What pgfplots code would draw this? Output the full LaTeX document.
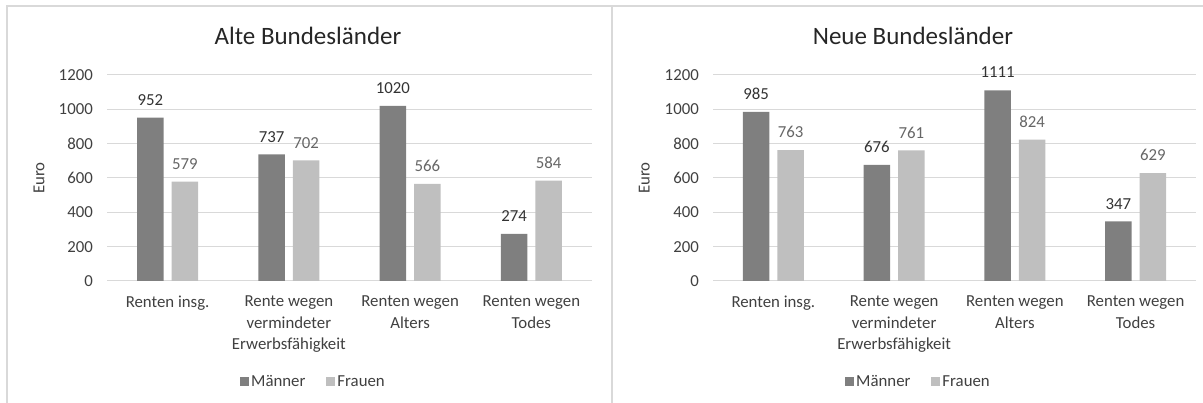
\documentclass[border=0pt]{standalone}
\usepackage{fontspec}
\setmainfont{Carlito}
\usepackage{pgfplots}
\pgfplotsset{compat=1.18}

\definecolor{mdark}{HTML}{7F7F7F}
\definecolor{flight}{HTML}{BFBFBF}
\definecolor{gridcol}{HTML}{D9D9D9}
\definecolor{framecol}{HTML}{D9D9D9}
\definecolor{txt}{HTML}{404040}
\definecolor{titlecol}{HTML}{262626}
\definecolor{labm}{HTML}{333333}
\definecolor{labf}{HTML}{666666}

\newcommand{\basefont}{\fontsize{16.8bp}{21.5bp}\selectfont}
\newcommand{\titlefont}{\fontsize{25bp}{30bp}\selectfont}

% Durchschnittliche Rentenzahlbeträge in Euro
% Spalten: Kategorie, Männer, Frauen
\pgfplotstableread{
cat m f
0 952 579
1 737 702
2 1020 566
3 274 584
}\alte
\pgfplotstableread{
cat m f
0 985 763
1 676 761
2 1111 824
3 347 629
}\neue

\pgfplotsset{
  rentenpanel/.style={
    scale only axis,
    width=485bp, height=206bp,
    anchor=south west,
    xmin=-0.5, xmax=3.5, ymin=0, ymax=1200,
    enlargelimits=false,
    clip=false,
    ybar=8bp, bar width=26.5bp,
    axis line style={draw=none},
    tick style={draw=none},
    ymajorgrids,
    grid style={draw=gridcol, line width=1bp},
    ytick={0,200,...,1200},
    xtick={0,1,2,3},
    xticklabels={Renten insg., {Rente wegen\\vermindeter\\Erwerbsfähigkeit}, {Renten wegen\\Alters}, {Renten wegen\\Todes}},
    /pgf/number format/1000 sep={},
    /pgf/number format/assume math mode=true,
    yticklabel style={font=\basefont, text=txt, inner sep=0pt, anchor=east, xshift=-14bp},
    xticklabel style={font=\basefont, text=txt, align=center, anchor=north, inner sep=0pt, yshift=-10.5bp},
    ylabel={Euro},
    every axis y label/.style={rotate=90, anchor=center, font=\basefont, text=txt},
    title style={anchor=base, font=\titlefont, text=titlecol},
    legend columns=2,
    legend style={anchor=west, draw=none, fill=none, inner sep=0pt,
      font=\basefont, text=txt,
      nodes={inner xsep=2bp, inner ysep=0pt},
      /tikz/every even column/.append style={column sep=19bp}},
    nodes near coords,
    every node near coord/.append style={anchor=base, yshift=12.3bp, inner sep=0pt, font=\basefont},
  },
  maenner/.style={fill=mdark, draw=none,
    every node near coord/.append style={text=labm},
    legend image code/.code={\fill[mdark] (0bp,-4.5bp) rectangle (9bp,4.5bp);}},
  frauen/.style={fill=flight, draw=none,
    every node near coord/.append style={text=labf},
    legend image code/.code={\fill[flight] (0bp,-4.5bp) rectangle (9bp,4.5bp);}},
}

\begin{document}
\begin{tikzpicture}
\useasboundingbox (0bp,0bp) rectangle (1203bp,403bp);
% Rahmen der beiden Diagrammflächen
\draw[framecol, line width=1.5bp] (7bp,0bp) -- (7bp,397bp) -- (1203bp,397bp);
\draw[framecol, line width=1.5bp] (612bp,0bp) -- (612bp,397bp);

\begin{axis}[rentenpanel,
  at={(107bp,122bp)},
  title={Alte Bundesländer},
  title style={at={(0.4144,1.117)}},
  every axis y label/.append style={at={(-0.14,0.5)}},
  legend style={at={(0.2742,-0.490)}}]
\addplot[maenner] table[x=cat, y=m] {\alte};
\addplot[frauen] table[x=cat, y=f] {\alte};
\addlegendentry{Männer}
\addlegendentry{Frauen}
\end{axis}

\begin{axis}[rentenpanel,
  at={(713bp,122bp)},
  width=483bp,
  title={Neue Bundesländer},
  title style={at={(0.414,1.117)}},
  every axis y label/.append style={at={(-0.142,0.5)}},
  legend style={at={(0.2733,-0.490)}}]
\addplot[maenner] table[x=cat, y=m] {\neue};
\addplot[frauen] table[x=cat, y=f] {\neue};
\addlegendentry{Männer}
\addlegendentry{Frauen}
\end{axis}
\end{tikzpicture}
\end{document}
